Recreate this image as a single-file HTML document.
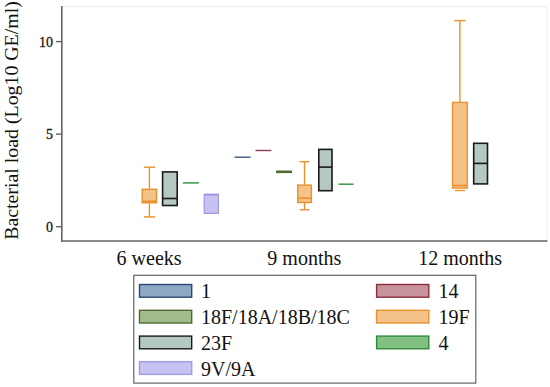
<!DOCTYPE html>
<html><head><meta charset="utf-8"><style>
html,body{margin:0;padding:0;background:#fff;}
svg{display:block;}
text{font-family:"Liberation Serif",serif;fill:#111;}
</style></head><body>
<svg width="550" height="387" viewBox="0 0 550 387">
<!-- faint plot frame -->
<line x1="62" y1="6.5" x2="547" y2="6.5" stroke="#ececec" stroke-width="1"/>
<line x1="547" y1="6" x2="547" y2="241" stroke="#ececec" stroke-width="1"/>
<!-- axes -->
<line x1="61.8" y1="6" x2="61.8" y2="241.8" stroke="#636363" stroke-width="1.6"/>
<line x1="61" y1="241" x2="547.5" y2="241" stroke="#636363" stroke-width="1.6"/>
<!-- ticks -->
<g stroke="#636363" stroke-width="1.4">
<line x1="56" y1="41.6" x2="62" y2="41.6"/>
<line x1="56" y1="134.1" x2="62" y2="134.1"/>
<line x1="56" y1="226.7" x2="62" y2="226.7"/>
</g>
<g font-size="14" text-anchor="end" stroke="#222" stroke-width="0.3">
<text x="53" y="47.2">10</text>
<text x="53" y="139.3">5</text>
<text x="53" y="231.8">0</text>
</g>
<text font-size="19" transform="translate(18.3,239.8) rotate(-90) scale(1.045,1)">Bacterial load (Log10 GE/ml)</text>
<g font-size="20" text-anchor="middle">
<text x="149.1" y="265.1">6 weeks</text>
<text x="304.3" y="265.1">9 months</text>
<text x="460.2" y="265.1">12 months</text>
</g>
<!-- 6 weeks -->
<g stroke="#e8912d" stroke-width="1.4" fill="none">
<line x1="149.4" y1="167.2" x2="149.4" y2="188.8"/>
<line x1="149.4" y1="203.3" x2="149.4" y2="216.9"/>
<line x1="143.8" y1="167.2" x2="155" y2="167.2"/>
<line x1="143.8" y1="216.9" x2="155" y2="216.9"/>
</g>
<rect x="142.2" y="189.3" width="14.3" height="13.5" fill="#f5c28a" stroke="#e8912d" stroke-width="1.4"/>
<line x1="142.2" y1="201.3" x2="156.5" y2="201.3" stroke="#e8912d" stroke-width="1.6"/>
<rect x="162.6" y="171.9" width="14.6" height="33.6" fill="#b5c9c1" stroke="#1a1a1a" stroke-width="1.6"/>
<line x1="162.6" y1="198.5" x2="177.2" y2="198.5" stroke="#1a1a1a" stroke-width="1.6"/>
<line x1="183" y1="182.9" x2="198.9" y2="182.9" stroke="#33984a" stroke-width="1.5"/>
<rect x="204.2" y="194.4" width="14.2" height="19" fill="#c6c2f2" stroke="#a29ae2" stroke-width="1.2"/>
<line x1="204.2" y1="194.6" x2="218.4" y2="194.6" stroke="#968ed8" stroke-width="1.6"/>
<!-- 9 months -->
<line x1="234.5" y1="157.2" x2="250.6" y2="157.2" stroke="#3d5a80" stroke-width="1.4"/>
<line x1="255.5" y1="150.5" x2="271.4" y2="150.5" stroke="#8e3a48" stroke-width="1.4"/>
<line x1="276.1" y1="171.8" x2="292.1" y2="171.8" stroke="#4e6a30" stroke-width="2.6"/>
<g stroke="#e8912d" stroke-width="1.4" fill="none">
<line x1="304.5" y1="161.7" x2="304.5" y2="184.6"/>
<line x1="304.5" y1="203" x2="304.5" y2="209.8"/>
<line x1="299.7" y1="161.7" x2="309.4" y2="161.7"/>
<line x1="299.7" y1="209.8" x2="309.4" y2="209.8"/>
</g>
<rect x="297.7" y="185.1" width="13.7" height="17.4" fill="#f5c28a" stroke="#e8912d" stroke-width="1.4"/>
<line x1="297.7" y1="198.2" x2="311.4" y2="198.2" stroke="#e8912d" stroke-width="1.6"/>
<rect x="318.8" y="149.4" width="13.2" height="41.3" fill="#b5c9c1" stroke="#1a1a1a" stroke-width="1.6"/>
<line x1="318.8" y1="167.1" x2="332" y2="167.1" stroke="#1a1a1a" stroke-width="1.6"/>
<line x1="338.5" y1="184.2" x2="353.6" y2="184.2" stroke="#33984a" stroke-width="1.5"/>
<!-- 12 months -->
<g stroke="#e8912d" stroke-width="1.4" fill="none">
<line x1="459.9" y1="20.6" x2="459.9" y2="101.9"/>
<line x1="454.2" y1="20.6" x2="465.6" y2="20.6"/>
<line x1="455" y1="190.5" x2="465" y2="190.5"/>
</g>
<rect x="452.6" y="102.4" width="14.6" height="85.7" fill="#f5c28a" stroke="#e8912d" stroke-width="1.4"/>
<line x1="452.6" y1="185.5" x2="467.2" y2="185.5" stroke="#e8912d" stroke-width="1.6"/>
<rect x="473.7" y="143.3" width="13.8" height="40.6" fill="#b5c9c1" stroke="#1a1a1a" stroke-width="1.6"/>
<line x1="473.7" y1="163.4" x2="487.5" y2="163.4" stroke="#1a1a1a" stroke-width="1.6"/>
<!-- legend -->
<rect x="133.8" y="275.3" width="342" height="107.8" fill="none" stroke="#636363" stroke-width="1.2"/>
<g stroke-width="1.4">
<rect x="139.5" y="284.5" width="52.2" height="12.7" fill="#8fa8c6" stroke="#2b4a70"/>
<rect x="139.5" y="310.3" width="52.2" height="12.7" fill="#a3bb8b" stroke="#4e6a30"/>
<rect x="139.5" y="336.1" width="52.2" height="12.7" fill="#b5c9c1" stroke="#1a1a1a"/>
<rect x="139.5" y="361.7" width="52.2" height="12.7" fill="#c6c2f2" stroke="#a29ae2"/>
<rect x="376.6" y="284.5" width="52.2" height="12.7" fill="#c8949c" stroke="#8b2f3f"/>
<rect x="376.6" y="310.3" width="52.2" height="12.7" fill="#f5c28a" stroke="#e8912d"/>
<rect x="376.6" y="336.1" width="52.2" height="12.7" fill="#80c080" stroke="#2e8b3e"/>
</g>
<g font-size="20">
<text x="201" y="298.4">1</text>
<text x="201" y="324.2">18F/18A/18B/18C</text>
<text x="201" y="350">23F</text>
<text x="201" y="375.7">9V/9A</text>
<text x="438.4" y="298.4">14</text>
<text x="438.4" y="324.2">19F</text>
<text x="438.4" y="350">4</text>
</g>
</svg>
</body></html>
